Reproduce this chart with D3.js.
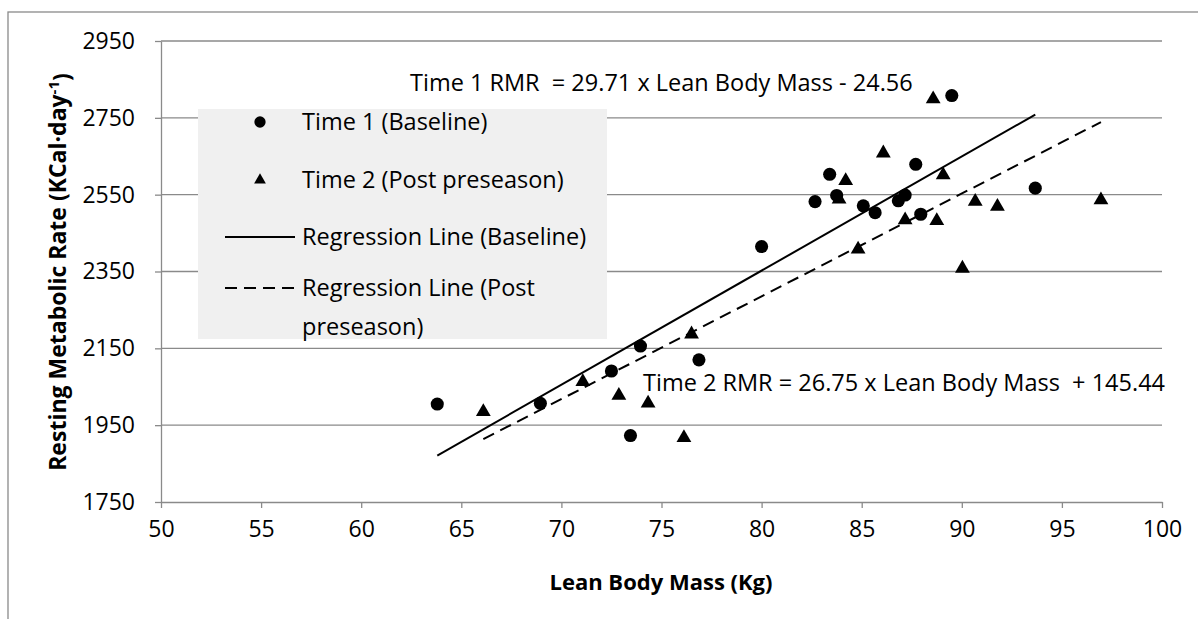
<!DOCTYPE html>
<html>
<head>
<meta charset="utf-8">
<script src="https://cdn.jsdelivr.net/npm/d3@7"></script>
<style>
  body { margin: 0; background: #fff; }
  svg { font-family: "Open Sans", sans-serif; }
  text { white-space: pre; }
</style>
</head>
<body>
<div id="chart"></div>
<script>

// Chart size
const width = 1198;
const height = 619;

// Data
const time1Mass = [63.8, 68.95, 72.5, 73.45, 73.95, 76.87, 80.0, 82.67, 83.4, 83.75, 85.08, 85.67, 86.83, 87.17, 87.7, 87.95, 89.5, 93.67];
const time1Rmr  = [2005, 2007, 2091, 1923, 2156, 2120, 2415, 2532, 2603, 2548, 2521, 2503, 2534, 2549, 2629, 2499, 2808, 2567];
const time2Mass = [66.1, 71.07, 72.87, 74.33, 76.12, 76.5, 83.87, 84.2, 84.82, 86.08, 87.17, 88.57, 88.75, 89.07, 90.03, 90.67, 91.78, 96.95];
const time2Rmr  = [1985, 2063, 2027, 2007, 1917, 2187, 2538, 2586, 2408, 2658, 2484, 2799, 2482, 2601, 2358, 2532, 2519, 2536];

// Regression coefficients [slope, intercept] for time 1 and time 2
const regSlope = [29.71, 26.75];
const regIntercept = [-24.56, 145.44];

const xTicks = [50, 55, 60, 65, 70, 75, 80, 85, 90, 95, 100];
const yTicks = [1750, 1950, 2150, 2350, 2550, 2750, 2950];

const legendLabels = ["Time 1 (Baseline)", "Time 2 (Post preseason)", "Regression Line (Baseline)", ["Regression Line (Post", "preseason)"]];
const eqLabels = ["Time 1 RMR  = 29.71 x Lean Body Mass - 24.56", "Time 2 RMR = 26.75 x Lean Body Mass  + 145.44"];

const gridColor = "#8a8a8a";
const fontSize = "23.5px";

const svg = d3.select("#chart")
  .append("svg")
  .attr("width", width)
  .attr("height", height);

// outer chart border (runs off the right and bottom edge)
svg.append("rect")
  .attr("x", 8).attr("y", 12)
  .attr("width", width + 20).attr("height", height + 20)
  .attr("fill", "#fff")
  .attr("stroke", gridColor)
  .attr("stroke-width", 1.3);

// Scales
const xScale = d3.scaleLinear().domain([50, 100]).range([161, 1162]);
const yScale = d3.scaleLinear().domain([1750, 2950]).range([502, 41]);

// Gridlines
svg.append("g")
  .selectAll("line")
  .data(yTicks.slice(1))
  .enter()
  .append("line")
    .attr("x1", xScale(50)).attr("x2", xScale(100))
    .attr("y1", d => yScale(d)).attr("y2", d => yScale(d))
    .attr("stroke", gridColor)
    .attr("stroke-width", 1.3);

// Y axis
const yAxis = svg.append("g")
  .attr("transform", `translate(${xScale(50)},0)`)
  .call(d3.axisLeft(yScale).tickValues(yTicks).tickFormat(d3.format("d"))
    .tickSize(6).tickSizeOuter(0).tickPadding(20));

// X axis
const xAxis = svg.append("g")
  .attr("transform", `translate(0,${yScale(1750)})`)
  .call(d3.axisBottom(xScale).tickValues(xTicks).tickFormat(d3.format("d"))
    .tickSize(6).tickSizeOuter(0).tickPadding(13));

[yAxis, xAxis].forEach(ax => {
  ax.select(".domain").attr("stroke", gridColor).attr("stroke-width", 1.3);
  ax.selectAll(".tick line").attr("stroke", gridColor).attr("stroke-width", 1.3);
  ax.selectAll(".tick text")
    .attr("font-family", "Open Sans")
    .attr("font-size", "23px")
    .attr("fill", "#000");
});

// Regression lines
const massGroups = [time1Mass, time2Mass];
const dashes = [null, "12,7"];
massGroups.forEach((mass, i) => {
  const x0 = d3.min(mass), x1 = d3.max(mass);
  svg.append("line")
    .attr("x1", xScale(x0))
    .attr("y1", yScale(regSlope[i] * x0 + regIntercept[i]))
    .attr("x2", xScale(x1))
    .attr("y2", yScale(regSlope[i] * x1 + regIntercept[i]))
    .attr("stroke", "#000")
    .attr("stroke-width", 2)
    .attr("stroke-dasharray", dashes[i]);
});

// Points
const circle = d3.symbol().type(d3.symbolCircle).size(135);
const triangle = d3.symbol().type(d3.symbolTriangle).size(95);

svg.append("g")
  .selectAll("path")
  .data(d3.range(time1Mass.length))
  .enter()
  .append("path")
    .attr("d", circle)
    .attr("transform", i => `translate(${xScale(time1Mass[i])},${yScale(time1Rmr[i])})`)
    .attr("fill", "#000");

svg.append("g")
  .selectAll("path")
  .data(d3.range(time2Mass.length))
  .enter()
  .append("path")
    .attr("d", triangle)
    .attr("transform", i => `translate(${xScale(time2Mass[i])},${yScale(time2Rmr[i])})`)
    .attr("fill", "#000");

// Equation labels
svg.append("text")
  .attr("x", 410).attr("y", 83)
  .attr("dy", "0.35em")
  .attr("font-size", fontSize)
  .text(eqLabels[0]);

svg.append("text")
  .attr("x", 643).attr("y", 383)
  .attr("dy", "0.35em")
  .attr("font-size", fontSize)
  .text(eqLabels[1]);

// Legend
const legend = svg.append("g");
legend.append("rect")
  .attr("x", 198).attr("y", 109)
  .attr("width", 409).attr("height", 230)
  .attr("fill", "#f0f0f0");

const rowY = [122, 180, 237, 288];
legend.append("path")
  .attr("d", d3.symbol().type(d3.symbolCircle).size(100))
  .attr("transform", `translate(260,${rowY[0]})`);
legend.append("path")
  .attr("d", d3.symbol().type(d3.symbolTriangle).size(60))
  .attr("transform", `translate(260,${rowY[1]})`);
legend.append("line")
  .attr("x1", 225).attr("x2", 295)
  .attr("y1", rowY[2]).attr("y2", rowY[2])
  .attr("stroke", "#000").attr("stroke-width", 2);
legend.append("line")
  .attr("x1", 225).attr("x2", 297)
  .attr("y1", rowY[3]).attr("y2", rowY[3])
  .attr("stroke", "#000").attr("stroke-width", 2)
  .attr("stroke-dasharray", "12,7");

legendLabels.forEach((lab, i) => {
  const t = legend.append("text")
    .attr("x", 302).attr("y", rowY[i])
    .attr("dy", "0.35em")
    .attr("font-size", fontSize);
  if (Array.isArray(lab)) {
    t.text(lab[0]);
    legend.append("text")
      .attr("x", 302).attr("y", 327)
      .attr("dy", "0.35em")
      .attr("font-size", fontSize)
      .text(lab[1]);
  } else {
    t.text(lab);
  }
});

// Axis titles
svg.append("text")
  .attr("x", 661).attr("y", 582)
  .attr("dy", "0.35em")
  .attr("text-anchor", "middle")
  .attr("font-weight", "bold")
  .attr("font-size", "22px")
  .text("Lean Body Mass (Kg)");

const yTitle = svg.append("text")
  .attr("transform", "translate(58,272) rotate(-90)")
  .attr("dy", "0.35em")
  .attr("text-anchor", "middle")
  .attr("font-weight", "bold")
  .attr("font-size", "23px");
yTitle.append("tspan").text("Resting Metabolic Rate (KCal·day");
yTitle.append("tspan").attr("dy", "-0.5em").attr("font-size", "15px").text("-1");
yTitle.append("tspan").attr("dy", "0.5em").text(")");

</script>
</body>
</html>
